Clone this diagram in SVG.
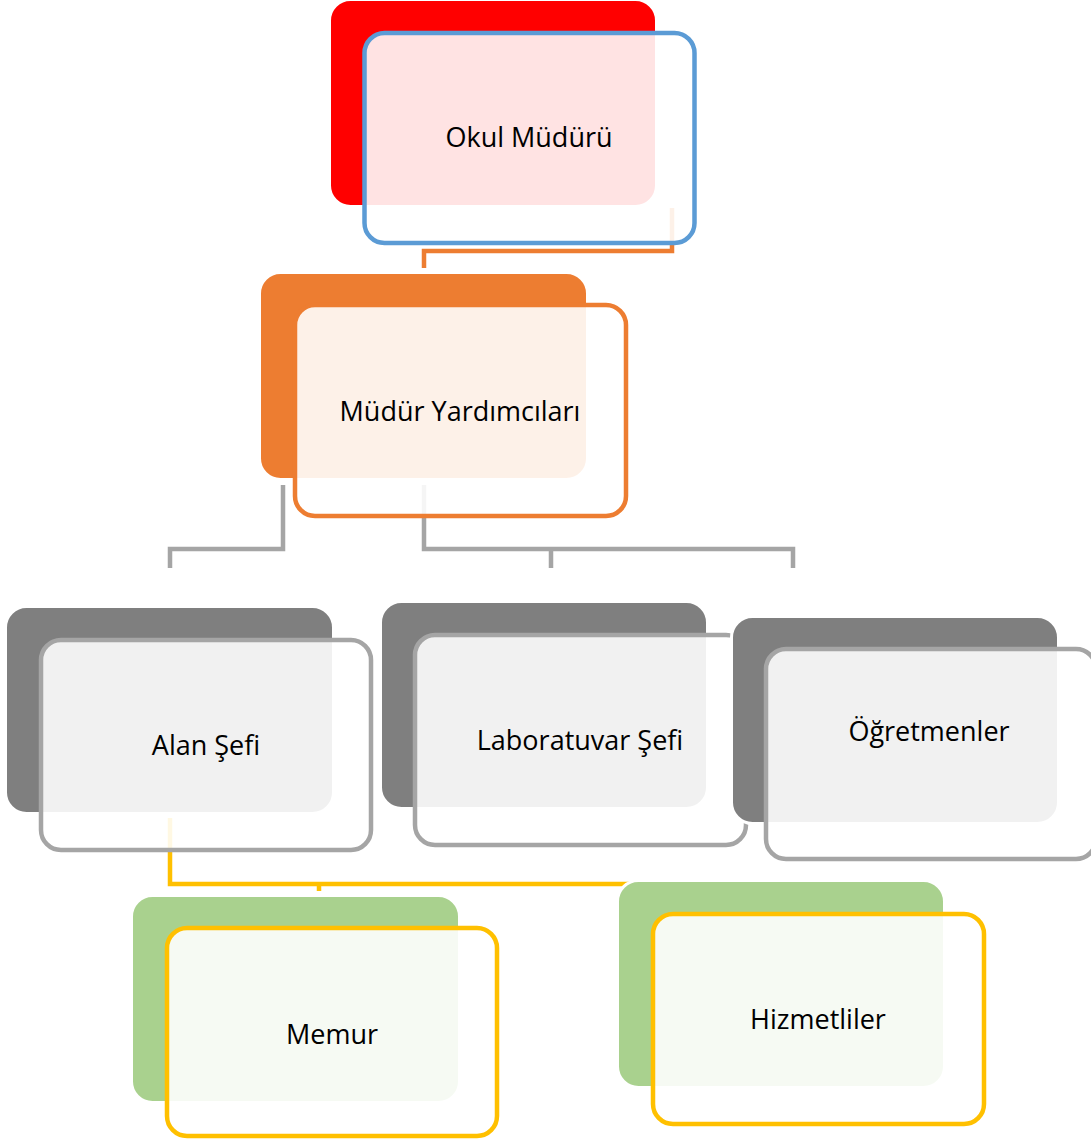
<svg xmlns="http://www.w3.org/2000/svg" width="1091" height="1139" viewBox="0 0 1091 1139">
<style>
.back{stroke:#fff;stroke-width:3}
.front{fill:#fff;fill-opacity:0.89;stroke-width:4.5}
.lbl{font-family:"Open Sans","Liberation Sans",sans-serif;font-size:27px;fill:#000;text-anchor:middle}
.conn{fill:none;stroke-width:4.5}
</style>
<rect width="1091" height="1139" fill="#fff"/>
<g id="connectors">
<path class="conn" stroke="#ED7D31" d="M672 208 V251 H424 V268"/>
<path class="conn" stroke="#A5A5A5" d="M283 485 V549 H170 V568"/>
<path class="conn" stroke="#A5A5A5" d="M424 485 V549 H793 V568 M551 549 V568"/>
<path class="conn" stroke="#FFC000" d="M170 818 V884 H640 M319 884 V891"/>
</g>
<g id="node-okul-muduru">
<rect class="back" x="329.5" y="-0.5" width="327" height="207" rx="21" fill="#FF0000"/>
<rect class="front" x="364.5" y="33" width="330" height="210" rx="20" stroke="#5B9BD5"/>
<text class="lbl" x="529" y="147">Okul Müdürü</text>
</g>
<g id="node-mudur-yardimcilari">
<rect class="back" x="259.5" y="272.5" width="328" height="207" rx="21" fill="#ED7D31"/>
<rect class="front" x="295" y="305" width="331" height="211" rx="20" stroke="#ED7D31"/>
<text class="lbl" x="460" y="421">Müdür Yardımcıları</text>
</g>
<g id="node-alan-sefi">
<rect class="back" x="5.5" y="606.5" width="328" height="207" rx="21" fill="#7F7F7F"/>
<rect class="front" x="41" y="640" width="330" height="210" rx="20" stroke="#A5A5A5"/>
<text class="lbl" x="206" y="755">Alan Şefi</text>
</g>
<g id="node-laboratuvar-sefi">
<rect class="back" x="380.5" y="601.5" width="327" height="207" rx="21" fill="#7F7F7F"/>
<rect class="front" x="415" y="635" width="331" height="210" rx="20" stroke="#A5A5A5"/>
<text class="lbl" x="580" y="750">Laboratuvar Şefi</text>
</g>
<g id="node-ogretmenler">
<rect class="back" x="731.5" y="616.5" width="327" height="207" rx="21" fill="#7F7F7F"/>
<rect class="front" x="766" y="649" width="330" height="210" rx="20" stroke="#A5A5A5"/>
<text class="lbl" x="929" y="741">Öğretmenler</text>
</g>
<g id="node-memur">
<rect class="back" x="131.5" y="895.5" width="328" height="207" rx="21" fill="#A9D18E"/>
<rect class="front" x="167" y="928" width="330" height="208" rx="20" stroke="#FFC000"/>
<text class="lbl" x="332" y="1044">Memur</text>
</g>
<g id="node-hizmetliler">
<rect class="back" x="617.5" y="880.5" width="327" height="207" rx="21" fill="#A9D18E"/>
<rect class="front" x="653" y="914" width="331" height="210" rx="20" stroke="#FFC000"/>
<text class="lbl" x="818" y="1029">Hizmetliler</text>
</g>
</svg>
